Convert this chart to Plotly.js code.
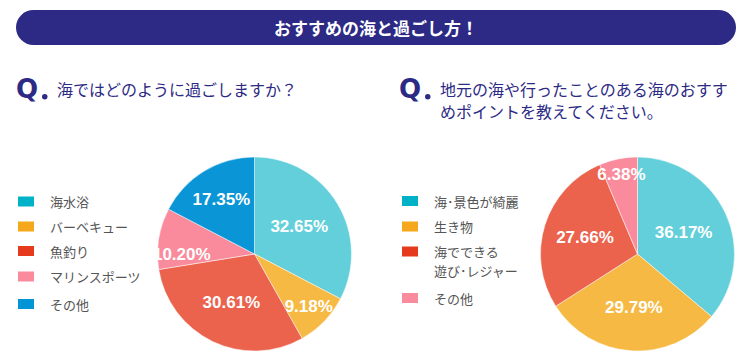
<!DOCTYPE html>
<html><head><meta charset="utf-8">
<script src="https://cdn.plot.ly/plotly-3.0.1.min.js"></script>
<style>html,body{margin:0;padding:0;background:#fff;}#chart{width:746px;height:359px;}</style>
</head><body><div id="chart"></div>
<script>
// ---- data ----
const chartTitle = "おすすめの海と過ごし方！";
const q1 = "海ではどのように過ごしますか？";
const q2Lines = ["地元の海や行ったことのある海のおすす", "めポイントを教えてください。"];

const cats1 = ["海水浴", "バーベキュー", "魚釣り", "マリンスポーツ", "その他"];
const vals1 = [32.65, 9.18, 30.61, 10.20, 17.35];
const cats2 = ["海･景色が綺麗", "生き物", "海でできる<br>遊び･レジャー", "その他"];
const vals2 = [36.17, 29.79, 27.66, 6.38];

const pieCols1 = ["#62cfdb", "#f6b944", "#eb624d", "#f98b9c", "#0a95d6"];
const legCols1 = ["#00b2c7", "#f5a81c", "#e63a1e", "#f98b9c", "#0096d6"];
const pieCols2 = ["#62cfdb", "#f6b944", "#eb624d", "#f98b9c"];
const legCols2 = ["#00b2c7", "#f5a81c", "#e63a1e", "#f98b9c"];

// ---- layout helpers ----
const W = 746, H = 359;
const px = x => x / W, py = y => 1 - y / H;
const NAVY = "#2d2a85";
const JP = "Noto Sans CJK JP, Noto Sans, sans-serif";

function pie(vals, cats, cols, x0, x1, y0, y1) {
  return {
    type: "pie", values: vals, labels: cats, sort: false, direction: "clockwise", rotation: 0,
    marker: {colors: cols, line: {color: "#ffffff", width: 0.5}},
    texttemplate: "%{value:.2f}%", textposition: "inside", insidetextorientation: "horizontal",
    textfont: {color: "#ffffff", size: 17, family: "Liberation Sans, Arial, sans-serif", weight: "bold"},
    domain: {x: [px(x0), px(x1)], y: [py(y1), py(y0)]},
    showlegend: false, hoverinfo: "label+percent"
  };
}

const data = [
  pie(vals1, cats1, pieCols1, 157, 352, 157, 351),
  pie(vals2, cats2, pieCols2, 540, 735, 157, 351)
];

const shapes = [];
const ann = [];

// title bar (rounded ends)
const barY0 = 10, barY1 = 45, barX0 = 16, barX1 = 736, r = (barY1 - barY0) / 2;
shapes.push({type: "rect", xref: "paper", yref: "paper", x0: px(barX0 + r), x1: px(barX1 - r), y0: py(barY1), y1: py(barY0), fillcolor: NAVY, line: {width: 0}});
shapes.push({type: "circle", xref: "paper", yref: "paper", x0: px(barX0), x1: px(barX0 + 2 * r), y0: py(barY1), y1: py(barY0), fillcolor: NAVY, line: {width: 0}});
shapes.push({type: "circle", xref: "paper", yref: "paper", x0: px(barX1 - 2 * r), x1: px(barX1), y0: py(barY1), y1: py(barY0), fillcolor: NAVY, line: {width: 0}});
ann.push({text: chartTitle, xref: "paper", yref: "paper", x: px(376), y: py(27.5), xanchor: "center", yanchor: "middle", showarrow: false,
  font: {family: JP, size: 17, color: "#ffffff", weight: "bold"}});

// Q headings
function qmark(x, y) {
  ann.push({text: "<b>Q</b>", xref: "paper", yref: "paper", x: px(x), y: py(y), xanchor: "left", yanchor: "middle", showarrow: false,
    font: {family: "DejaVu Sans, Liberation Sans, sans-serif", size: 26, color: NAVY}});
  shapes.push({type: "circle", xref: "paper", yref: "paper", x0: px(x + 28), x1: px(x + 33.5), y0: py(y + 10.5), y1: py(y + 5), fillcolor: NAVY, line: {width: 0}});
}
qmark(14, 89);
ann.push({text: q1, xref: "paper", yref: "paper", x: px(55), y: py(89), xanchor: "left", yanchor: "middle", showarrow: false,
  font: {family: JP, size: 16, color: NAVY}});
qmark(397, 89);
q2Lines.forEach((t, i) => ann.push({text: t, xref: "paper", yref: "paper", x: px(438), y: py(89 + i * 22), xanchor: "left", yanchor: "middle", showarrow: false,
  font: {family: JP, size: 16, color: NAVY}}));

// custom legends (multi-line labels split into separate lines)
function legend(cats, cols, x, ys) {
  cats.forEach((c, i) => {
    const y = ys[i];
    shapes.push({type: "rect", xref: "paper", yref: "paper", x0: px(x), x1: px(x + 16), y0: py(y + 5), y1: py(y - 5), fillcolor: cols[i], line: {width: 0}});
    c.split("<br>").forEach((line, j) => ann.push({text: line, xref: "paper", yref: "paper", x: px(x + 30), y: py(y + j * 19), xanchor: "left", yanchor: "middle", align: "left",
      showarrow: false, font: {family: JP, size: 13, color: "#555555"}}));
  });
}
legend(cats1, legCols1, 18, [201.5, 226.5, 251, 276.5, 304]);
legend(cats2, legCols2, 402, [201, 226.5, 251.5, 298]);

const layout = {
  width: W, height: H, margin: {l: 0, r: 0, t: 0, b: 0},
  paper_bgcolor: "#ffffff", plot_bgcolor: "#ffffff",
  uniformtext: {mode: "show", minsize: 17},
  shapes: shapes, annotations: ann, showlegend: false
};
Plotly.newPlot("chart", data, layout, {displayModeBar: false, staticPlot: true});
</script>
</body></html>
